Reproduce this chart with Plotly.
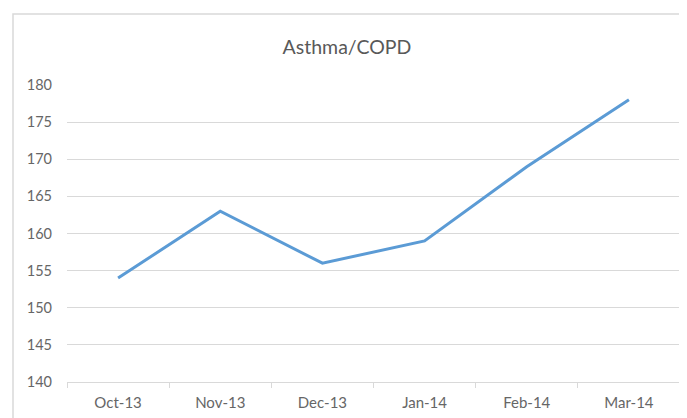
import plotly.graph_objects as go

months = ["Oct-13", "Nov-13", "Dec-13", "Jan-14", "Feb-14", "Mar-14"]
cases = [154, 163, 156, 159, 169, 178]
y_ticks = [140, 145, 150, 155, 160, 165, 170, 175, 180]

# page body has an 8px default margin, so layout is laid out in shifted pixels
OFF = 8
W, H = 687, 418
L, R, T, B = 67 - OFF, 15, 85 - OFF, 44
pw, ph = W - L - R, H - T - B


def px_x(x):
    return (x - OFF - L) / pw


def px_y(y):
    return (H - B - (y - OFF)) / ph


fig = go.Figure(
    go.Scatter(
        x=months,
        y=cases,
        mode="lines",
        line={"color": "#5B9BD5", "width": 3},
        showlegend=False,
    )
)

# Excel-style chart border
fig.add_shape(
    type="rect", xref="paper", yref="paper",
    x0=px_x(13), x1=px_x(700), y0=px_y(440), y1=px_y(14),
    line={"color": "#D9D9D9", "width": 1.5},
)

fig.update_layout(
    width=W,
    height=H,
    margin={"l": L, "r": R, "t": T, "b": B, "autoexpand": False},
    paper_bgcolor="white",
    plot_bgcolor="white",
    font={"family": "Lato, Open Sans, sans-serif", "color": "#666666", "size": 14.5},
    title={
        "text": "Asthma/COPD",
        "x": px_x(347), "xref": "paper", "xanchor": "center",
        "y": 1 - (47 - OFF) / H, "yanchor": "middle",
        "font": {"size": 19.5, "color": "#595959"},
    },
    xaxis={
        "type": "category",
        "range": [-0.5, 5.5],
        "showgrid": False,
        "showline": True,
        "linecolor": "#D9D9D9",
        "linewidth": 1,
        "ticks": "outside",
        "tickson": "boundaries",
        "ticklen": 5,
        "tickcolor": "#D9D9D9",
        "tickfont": {"size": 15},
        "ticklabelstandoff": 7,
        "automargin": False,
        "fixedrange": True,
    },
    yaxis={
        "range": [140, 180],
        "tickvals": y_ticks,
        "showgrid": True,
        "gridcolor": "#D9D9D9",
        "gridwidth": 1,
        "zeroline": False,
        "showline": False,
        "ticks": "",
        "ticklabelstandoff": 14,
        "automargin": False,
        "fixedrange": True,
    },
)

fig.write_html("out.html")
